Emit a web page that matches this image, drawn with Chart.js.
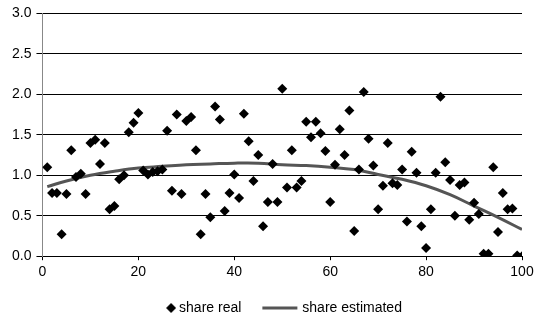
<!DOCTYPE html>
<html>
<head>
<meta charset="utf-8">
<script src="https://cdn.jsdelivr.net/npm/chart.js@4.4.1/dist/chart.umd.min.js"></script>
<style>
html, body { margin: 0; padding: 0; background: #fff; }
</style>
</head>
<body>
<canvas id="chart" width="534" height="328"></canvas>
<script>
// share real: one point per observation
const realX = [
  1, 2, 3, 4, 5, 6, 7, 8, 9, 10,
  11, 12, 13, 14, 15, 16, 17, 18, 19, 20,
  21, 22, 23, 24, 25, 26, 27, 28, 29, 30,
  31, 32, 33, 34, 35, 36, 37, 38, 39, 40,
  41, 42, 43, 44, 45, 46, 47, 48, 49, 50,
  51, 52, 53, 54, 55, 56, 57, 58, 59, 60,
  61, 62, 63, 64, 65, 66, 67, 68, 69, 70,
  71, 72, 73, 74, 75, 76, 77, 78, 79, 80,
  81, 82, 83, 84, 85, 86, 87, 88, 89, 90,
  91, 92, 93, 94, 95, 96, 97, 98, 99, 100
];
const realY = [
  1.10, 0.78, 0.78, 0.27, 0.77, 1.31, 0.98, 1.02, 0.77, 1.40,
  1.44, 1.14, 1.40, 0.58, 0.62, 0.95, 1.00, 1.53, 1.65, 1.77,
  1.06, 1.01, 1.04, 1.05, 1.07, 1.55, 0.81, 1.75, 0.77, 1.67,
  1.72, 1.31, 0.27, 0.77, 0.48, 1.85, 1.69, 0.56, 0.78, 1.01,
  0.72, 1.76, 1.42, 0.93, 1.25, 0.37, 0.67, 1.14, 0.67, 2.07,
  0.85, 1.31, 0.85, 0.93, 1.66, 1.47, 1.66, 1.52, 1.30, 0.67,
  1.13, 1.57, 1.25, 1.80, 0.31, 1.07, 2.03, 1.45, 1.12, 0.58,
  0.87, 1.40, 0.90, 0.88, 1.07, 0.43, 1.29, 1.03, 0.37, 0.10,
  0.58, 1.03, 1.97, 1.16, 0.94, 0.50, 0.88, 0.91, 0.45, 0.66,
  0.52, 0.03, 0.03, 1.10, 0.30, 0.78, 0.58, 0.59, 0.01, 0.00
];

// share estimated: smooth fitted curve, read every 5 units
const estX = [1, 5, 10, 15, 20, 25, 30, 35, 40, 45, 50, 55, 60, 65, 70, 75, 80, 85, 90, 95, 100];
const estY = [0.86, 0.93, 1.00, 1.05, 1.09, 1.11, 1.13, 1.14, 1.15, 1.15, 1.13, 1.12, 1.10, 1.07, 1.01, 0.95, 0.87, 0.76, 0.62, 0.48, 0.33];

const labelFont = { family: "'Liberation Sans', Arial, sans-serif", size: 14 };
const legendBox = 44;
const iconW = legendBox + 8; // icons hang 4px past the legend box on both sides

function makeDiamondIcon() {
  const c = document.createElement('canvas');
  c.width = iconW;
  c.height = 12;
  const ctx = c.getContext('2d');
  const cx = iconW - 5, cy = 6;
  ctx.fillStyle = '#000';
  ctx.beginPath();
  ctx.moveTo(cx - 5, cy);
  ctx.lineTo(cx, cy - 5);
  ctx.lineTo(cx + 5, cy);
  ctx.lineTo(cx, cy + 5);
  ctx.closePath();
  ctx.fill();
  return c;
}

function makeLineIcon() {
  const c = document.createElement('canvas');
  c.width = iconW;
  c.height = 4;
  const ctx = c.getContext('2d');
  ctx.fillStyle = '#555';
  ctx.fillRect(iconW - 37, 0.5, 35, 3);
  return c;
}

const diamondIcon = makeDiamondIcon();
const lineIcon = makeLineIcon();

const ctx = document.getElementById('chart');
const chart = new Chart(ctx, {
  type: 'scatter',
  data: {
    datasets: [
      {
        label: 'share real',
        data: realX.map((x, i) => ({ x: x, y: realY[i] })),
        pointStyle: 'rectRot',
        pointRadius: 5,
        backgroundColor: '#000',
        borderColor: '#000',
        borderWidth: 0
      },
      {
        label: 'share estimated',
        type: 'line',
        data: estX.map((x, i) => ({ x: x, y: estY[i] })),
        showLine: true,
        borderColor: '#555',
        borderWidth: 3,
        pointRadius: 0,
        fill: false,
        tension: 0.4
      }
    ]
  },
  options: {
    responsive: false,
    animation: false,
    layout: { padding: { top: 4, left: 7, right: 11, bottom: 3 } },
    scales: {
      x: {
        type: 'linear',
        min: 0,
        max: 100,
        ticks: { stepSize: 20, color: '#000', font: labelFont, padding: 4, maxRotation: 0 },
        grid: { drawOnChartArea: false, drawTicks: true, tickLength: 4, color: '#000' },
        border: { color: '#000' },
        afterFit: function(scale) {
          scale.height += 6;
          scale.paddingRight = 12;
        }
      },
      y: {
        min: 0,
        max: 3,
        ticks: {
          stepSize: 0.5,
          color: '#000',
          font: labelFont,
          padding: 5,
          callback: function(v) { return v.toFixed(1); }
        },
        grid: { color: '#000', tickLength: 6 },
        border: { color: '#888' }
      }
    },
    plugins: {
      tooltip: { enabled: false },
      legend: {
        position: 'bottom',
        labels: {
          color: '#000',
          font: labelFont,
          usePointStyle: true,
          pointStyleWidth: legendBox,
          padding: 10,
          generateLabels: function(chart) {
            const items = Chart.defaults.plugins.legend.labels.generateLabels(chart);
            items[0].pointStyle = diamondIcon;
            items[1].pointStyle = lineIcon;
            return items;
          }
        }
      }
    }
  }
});
</script>
</body>
</html>
